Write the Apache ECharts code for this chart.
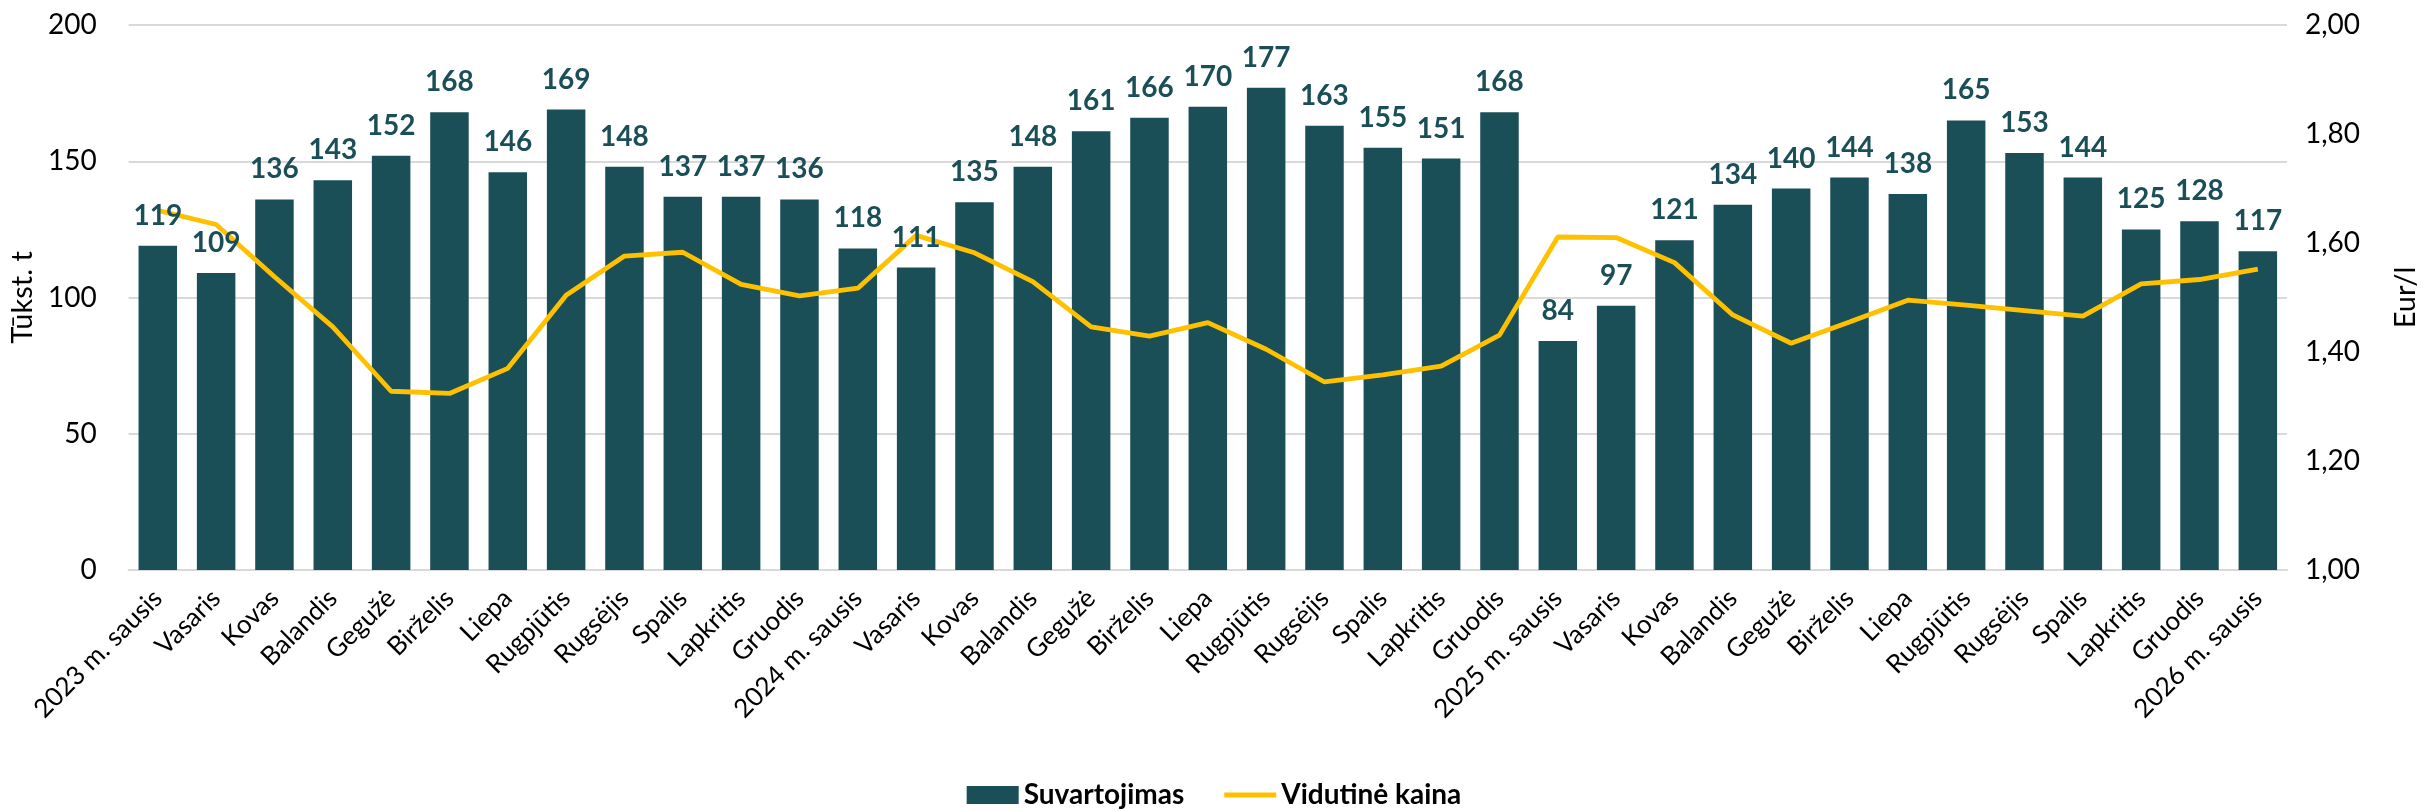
<!DOCTYPE html>
<html>
<head>
<meta charset="utf-8">
<script src="https://cdn.jsdelivr.net/npm/echarts@6/dist/echarts.min.js"></script>
<style>html,body{margin:0;padding:0;background:#fff}#c{width:2428px;height:811px}</style>
</head>
<body>
<div id="c"></div>
<script>
const categories = [
  "2023 m. sausis","Vasaris","Kovas","Balandis","Gegužė","Birželis","Liepa","Rugpjūtis","Rugsėjis","Spalis","Lapkritis","Gruodis",
  "2024 m. sausis","Vasaris","Kovas","Balandis","Gegužė","Birželis","Liepa","Rugpjūtis","Rugsėjis","Spalis","Lapkritis","Gruodis",
  "2025 m. sausis","Vasaris","Kovas","Balandis","Gegužė","Birželis","Liepa","Rugpjūtis","Rugsėjis","Spalis","Lapkritis","Gruodis",
  "2026 m. sausis"
];
const consumption = [
  119,109,136,143,152,168,146,169,148,137,137,136,
  118,111,135,148,161,166,170,177,163,155,151,168,
  84,97,121,134,140,144,138,165,153,144,125,128,
  117
];
const avgPrice = [
  1.660,1.634,1.538,1.446,1.328,1.324,1.370,1.504,1.576,1.583,1.524,1.503,
  1.517,1.614,1.582,1.529,1.446,1.429,1.454,1.405,1.345,1.358,1.374,1.431,
  1.611,1.610,1.564,1.468,1.416,1.455,1.495,1.486,1.476,1.466,1.525,1.533,
  1.552
];
const leftTicks = {min:0, max:200, interval:50};
const rightTicks = {min:1, max:2, interval:0.2};

const FONT = 'Lato';
const chart = echarts.init(document.getElementById('c'), null, {renderer:'canvas'});
chart.setOption({
  animation:false,
  textStyle:{fontFamily:FONT},
  grid:{left:128, right:139, top:25, bottom:241, containLabel:false},
  legend:{
    top:776, left:'center', itemGap:40, itemWidth:52, itemHeight:18,
    textStyle:{fontFamily:FONT, fontSize:28, fontWeight:'bold', color:'#000'},
    data:[
      {name:'Suvartojimas', icon:'rect'},
      {name:'Vidutinė kaina', icon:'path://M0,0H52V5H0Z'}
    ]
  },
  xAxis:{
    type:'category', data:categories,
    axisLine:{show:true, lineStyle:{color:'#d9d9d9', width:2}},
    axisTick:{show:false},
    axisLabel:{interval:0, rotate:45, fontFamily:FONT, fontSize:26, color:'#000', margin:24}
  },
  yAxis:[
    {
      type:'value', min:leftTicks.min, max:leftTicks.max, interval:leftTicks.interval,
      name:'Tūkst. t', nameLocation:'middle', nameGap:90,
      nameTextStyle:{fontFamily:FONT, fontSize:29, color:'#000'},
      axisLine:{show:false}, axisTick:{show:false},
      axisLabel:{fontFamily:FONT, fontSize:28, color:'#000', margin:32},
      splitLine:{show:true, lineStyle:{color:'#d9d9d9', width:2}}
    },
    {
      type:'value', min:rightTicks.min, max:rightTicks.max, interval:rightTicks.interval,
      name:'Eur/l', nameLocation:'middle', nameGap:104,
      nameTextStyle:{fontFamily:FONT, fontSize:29, color:'#000'},
      axisLine:{show:false}, axisTick:{show:false},
      axisLabel:{fontFamily:FONT, fontSize:28, color:'#000', margin:18,
        formatter:v=>v.toFixed(2).replace('.',',')},
      splitLine:{show:false}
    }
  ],
  series:[
    {
      name:'Suvartojimas', type:'bar', data:consumption, barWidth:'66%',
      itemStyle:{color:'#1a4f57'},
      z:2
    },
    {
      name:'Vidutinė kaina', type:'line', yAxisIndex:1, data:avgPrice,
      symbol:'none', smooth:false,
      lineStyle:{color:'#ffc000', width:4.8},
      itemStyle:{color:'#ffc000'},
      z:3
    },
    {
      name:'labels', type:'bar', data:consumption, barWidth:'66%', barGap:'-100%',
      itemStyle:{color:'rgba(0,0,0,0)'},
      label:{show:true, position:'top', distance:16, fontFamily:FONT, fontSize:28, fontWeight:'bold', color:'#1a4f57'},
      silent:true,
      z:5
    }
  ]
});
</script>
</body>
</html>
